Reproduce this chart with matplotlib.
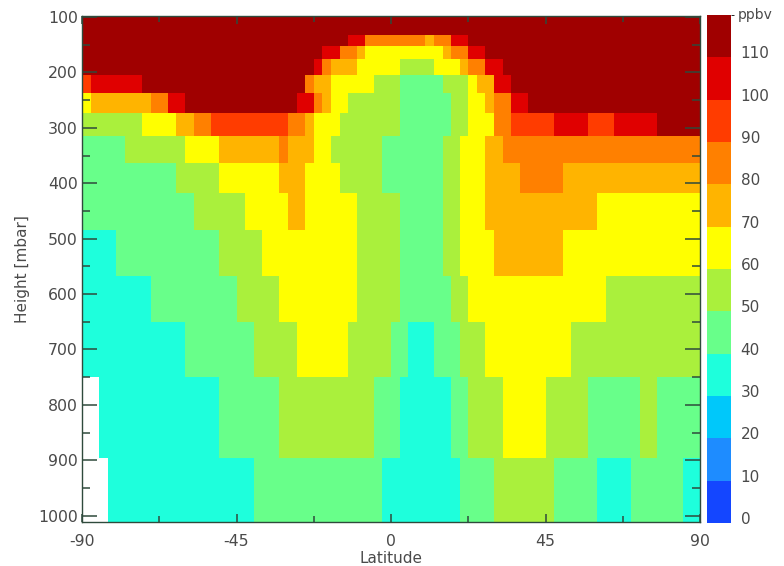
import numpy as np
import matplotlib
matplotlib.use("Agg")
import matplotlib.pyplot as plt
from matplotlib.colors import ListedColormap, BoundaryNorm
import matplotlib.transforms as mtransforms

# ========================================================
# Data: ozone mixing ratio (ppbv), latitude x pressure
# each row is a list of (value, number of 2.5 deg cells)
# ========================================================
lat_step = 2.5
p_edges = [97.5, 132, 153, 176, 204.5, 237.5, 272.6, 314.6, 364, 418,
           484, 567, 650, 749, 896, 1011]

row_097 = [(115, 72)]
row_132 = [(115, 31), (105, 2), (85, 7), (75, 1), (85, 2), (105, 2), (115, 27)]
row_153 = [(115, 28), (105, 2), (85, 2), (75, 1), (65, 9), (75, 1), (85, 2),
           (105, 2), (115, 25)]
row_176 = [(115, 27), (105, 1), (85, 1), (75, 3), (65, 5), (55, 4), (65, 3),
           (75, 1), (85, 2), (105, 2), (115, 23)]
row_204 = [(95, 1), (105, 6), (115, 19), (85, 1), (75, 2), (65, 5), (55, 3),
           (45, 5), (55, 3), (65, 1), (75, 2), (105, 2), (115, 22)]
row_237 = [(65, 1), (75, 7), (85, 2), (105, 2), (115, 13), (105, 2), (85, 1),
           (75, 1), (65, 2), (55, 6), (45, 6), (55, 2), (65, 2), (75, 1),
           (85, 2), (105, 2), (115, 20)]
row_273 = [(55, 7), (65, 4), (75, 2), (85, 2), (95, 9), (85, 2), (75, 1),
           (65, 3), (55, 7), (45, 6), (55, 2), (65, 3), (85, 2), (95, 5),
           (105, 4), (95, 3), (105, 5), (115, 5)]
row_315 = [(45, 5), (55, 7), (65, 4), (75, 7), (85, 1), (75, 3), (65, 2),
           (55, 6), (45, 7), (55, 2), (65, 3), (75, 2), (85, 23)]
row_364 = [(45, 11), (55, 5), (65, 7), (75, 3), (65, 4), (55, 5), (45, 7),
           (55, 2), (65, 3), (75, 4), (85, 5), (75, 16)]
row_418 = [(45, 13), (55, 6), (65, 5), (75, 2), (65, 6), (55, 5), (45, 5),
           (55, 2), (65, 3), (75, 13), (65, 12)]
row_484 = [(35, 4), (45, 12), (55, 5), (65, 11), (55, 5), (45, 5), (55, 2),
           (65, 4), (75, 8), (65, 16)]
row_567 = [(35, 8), (45, 10), (55, 5), (65, 9), (55, 5), (45, 6), (55, 2),
           (65, 16), (55, 11)]
row_650 = [(35, 12), (45, 8), (55, 5), (65, 6), (55, 5), (45, 2), (35, 3),
           (45, 3), (55, 3), (65, 10), (55, 15)]
row_749 = [(np.nan, 2), (35, 14), (45, 7), (55, 11), (45, 3), (35, 6), (45, 2),
           (55, 4), (65, 5), (55, 5), (45, 6), (55, 2), (45, 5)]
row_896 = [(np.nan, 3), (35, 17), (45, 15), (35, 9), (45, 4), (55, 7), (45, 5),
           (35, 4), (45, 6), (35, 2)]

rows = [row_097, row_132, row_153, row_176, row_204, row_237, row_273,
        row_315, row_364, row_418, row_484, row_567, row_650, row_749, row_896]

# colour table (12 levels of 10 ppbv)
levels = list(range(0, 130, 10))
colors = ["#1446ff", "#1e8cff", "#00c8fa", "#1effdc", "#68ff8a", "#aaf03c",
          "#ffff00", "#ffb400", "#ff8000", "#ff3c00", "#e00000", "#a00000"]

# expand runs
Z = np.array([np.concatenate([np.full(n, v) for v, n in r]) for r in rows])
Z = np.ma.masked_invalid(Z)
lat_edges = np.arange(-90, 90 + lat_step / 2, lat_step)

cmap = ListedColormap(colors)
norm = BoundaryNorm(levels, cmap.N)

# ========================================================
# Plot
# ========================================================
plt.rcParams["font.family"] = ["DejaVu Sans"]
plt.rcParams["axes.unicode_minus"] = False
tcol = "#4a4a4a"
acol = "#2f4a3c"

fig = plt.figure(figsize=(7.84, 5.66), dpi=100)
ax = fig.add_axes([0.1046, 0.0783, 0.7883, 0.894])
ax.pcolormesh(lat_edges, p_edges, Z, cmap=cmap, norm=norm, shading="flat")

ax.set_xlim(-90, 90)
ax.set_ylim(1011, 97.5)
ax.set_xticks([-90, -45, 0, 45, 90])
ax.set_xticks(np.arange(-90, 91, 22.5), minor=True)
ax.set_yticks(range(100, 1001, 100))
ax.set_yticks(range(100, 1001, 50), minor=True)
ax.tick_params(which="both", direction="in", top=True, right=True,
               color=acol, labelcolor=tcol, labelsize=11.3, width=1.1)
ax.tick_params(axis="y", which="major", length=11)
ax.tick_params(axis="y", which="minor", length=6)
ax.tick_params(axis="x", which="major", length=6)
ax.tick_params(axis="x", which="minor", length=4)
ax.tick_params(axis="y", pad=3)
ax.tick_params(axis="x", pad=9)
for s in ax.spines.values():
    s.set_color(acol)
    s.set_linewidth(1.0)

ax.set_xlabel("Latitude", fontsize=11, color=tcol, labelpad=1)
ax.set_ylabel("Height [mbar]", fontsize=11, color=tcol, labelpad=6)

# colour bar
cax = fig.add_axes([0.9018, 0.076, 0.0306, 0.8975])
cb = fig.colorbar(plt.cm.ScalarMappable(norm=norm, cmap=cmap), cax=cax,
                  ticks=levels[:-1])
cb.outline.set_visible(False)
cax.tick_params(length=0, labelsize=11, labelcolor=tcol, pad=7)
shift = mtransforms.ScaledTranslation(0, 0.05, fig.dpi_scale_trans)
for lab in cax.get_yticklabels():
    lab.set_transform(lab.get_transform() + shift)
cax.text(1.29, 1.0, "ppbv", transform=cax.transAxes,
         ha="left", va="center", fontsize=10, color=tcol)

plt.savefig("out.png", dpi=100)
